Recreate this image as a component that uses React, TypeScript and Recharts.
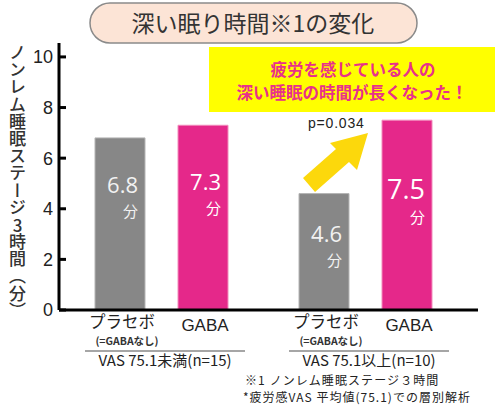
import React from 'react';
import { BarChart, Bar, XAxis, YAxis, LabelList } from 'recharts';

const groups = ['VAS 75.1未満(n=15)', 'VAS 75.1以上(n=10)'];
const placeboValues = [6.8, 4.6];
const gabaValues = [7.3, 7.5];
const yTicks = [0, 2, 4, 6, 8, 10];

const chartData = groups.map((g, i) => ({
  group: g,
  placebo: placeboValues[i],
  gaba: gabaValues[i],
}));

const JP = '"Noto Sans CJK JP", "Noto Sans", sans-serif';
const NUM = '"Liberation Sans", Arial, sans-serif';
const VAL = '"Open Sans", "Noto Sans", sans-serif';

const GRAY = '#878787';
const PINK = '#e5288a';

// label placement inside bars (distance from bar top to number baseline)
const labelDy: Record<string, number[]> = { placebo: [55, 48], gaba: [65, 79] };
const labelSize: Record<string, number[]> = { placebo: [22, 22], gaba: [22, 27] };

function valueLabel(key: string, color: string) {
  return (props: any) => {
    const { x, y, width, value, index } = props;
    const dy = labelDy[key][index];
    const fs = labelSize[key][index];
    const right = x + width - 7;
    return (
      <g>
        <text x={right} y={y + dy} textAnchor="end" fontSize={fs} fontFamily={VAL} fill={color}>
          {value}
        </text>
        <text x={right} y={y + dy + 24} textAnchor="end" fontSize={15} fontFamily={JP} fill={color}>
          分
        </text>
      </g>
    );
  };
}

function GroupTick(props: any) {
  const { x, y, payload } = props;
  return (
    <g>
      <text x={x - 39} y={y + 18} textAnchor="middle" fontSize={16.5} fontFamily={JP} fill="#222">
        プラセボ
      </text>
      <text x={x - 34} y={y + 35} textAnchor="middle" fontSize={10.5} fontWeight="bold" fontFamily={JP} fill="#333">
        (=GABAなし)
      </text>
      <text x={x + 44} y={y + 21} textAnchor="middle" fontSize={17} fontFamily={NUM} fill="#222">
        GABA
      </text>
      <line x1={x - 76} x2={x + 84} y1={y + 41} y2={y + 41} stroke="#888" strokeWidth={1.5} />
      <text x={x + 4} y={y + 56} textAnchor="middle" fontSize={15} fontFamily={JP} fill="#222">
        {payload.value}
      </text>
    </g>
  );
}

export default function App() {
  return (
    <div style={{ position: 'absolute', left: 0, top: 0, width: 495, height: 406, background: '#fff' }}>
      <BarChart
        width={495}
        height={406}
        data={chartData}
        margin={{ top: 43, right: 17, bottom: 0, left: 0 }}
        barSize={50}
        barGap={33}
      >
        <XAxis
          dataKey="group"
          interval={0}
          padding={{ left: 0, right: 11 }}
          axisLine={{ stroke: '#000', strokeWidth: 3 }}
          tickLine={false}
          tickSize={0}
          tickMargin={0}
          height={96}
          tick={<GroupTick />}
        />
        <YAxis
          width={59}
          domain={[0, 10.55]}
          ticks={yTicks}
          interval={0}
          axisLine={{ stroke: '#000', strokeWidth: 3 }}
          tickLine={{ stroke: '#000', strokeWidth: 3 }}
          tickSize={-7}
          tickMargin={13}
          tick={{ fontSize: 18, fontFamily: NUM, fill: '#222' }}
        />
        <Bar dataKey="placebo" fill={GRAY} stroke="#b5b5b5" strokeWidth={1} isAnimationActive={false}>
          <LabelList dataKey="placebo" content={valueLabel('placebo', '#f2f2f2')} />
        </Bar>
        <Bar dataKey="gaba" fill={PINK} stroke="#f28cbc" strokeWidth={1} isAnimationActive={false}>
          <LabelList dataKey="gaba" content={valueLabel('gaba', '#ffffff')} />
        </Bar>
      </BarChart>

      <svg
        width={495}
        height={406}
        style={{ position: 'absolute', left: 0, top: 0, pointerEvents: 'none' }}
      >
        {/* title pill */}
        <rect x={90} y={3} width={327} height={40} rx={20} fill="#fce4d6" stroke="#8a8a8a" strokeWidth={1.5} />
        <text x={253} y={32} textAnchor="middle" fontSize={23} fontFamily={JP} fill="#333">
          深い眠り時間※1の変化
        </text>

        {/* highlight box */}
        <rect x={209} y={47} width={286} height={65} fill="#ffff00" />
        <text x={353} y={76} textAnchor="middle" fontSize={16.5} fontWeight="bold" fontFamily={JP} fill="#e8318a">
          疲労を感じている人の
        </text>
        <text x={352} y={99} textAnchor="middle" fontSize={16.5} fontWeight="bold" fontFamily={JP} fill="#e8318a">
          深い睡眠の時間が長くなった！
        </text>

        <text x={308} y={128} fontSize={14} letterSpacing={0.8} fontFamily={NUM} fill="#222">
          p=0.034
        </text>

        {/* arrow */}
        <polygon
          points="303,178 336,149 330,143 368,133 357,170 349,162 315,192"
          fill="#fcd80c"
        />

        {/* footnotes */}
        <text x={245} y={384.5} fontSize={12} letterSpacing={1.1} fontFamily={JP} fill="#222">
          ※1 ノンレム睡眠ステージ３時間
        </text>
        <text x={243} y={402} fontSize={12} letterSpacing={1} fontFamily={JP} fill="#222">
          *疲労感VAS 平均値(75.1)での層別解析
        </text>
      </svg>

      <div
        style={{
          position: 'absolute',
          left: 9,
          top: 44,
          writingMode: 'vertical-rl',
          fontFamily: JP,
          fontSize: 17,
          fontWeight: 500,
          lineHeight: 1,
          letterSpacing: 0.2,
          color: '#333',
          whiteSpace: 'nowrap',
        }}
      >
        ノンレム睡眠ステージ<span style={{ textCombineUpright: 'all' } as any}>3</span>時間（分）
      </div>
    </div>
  );
}
